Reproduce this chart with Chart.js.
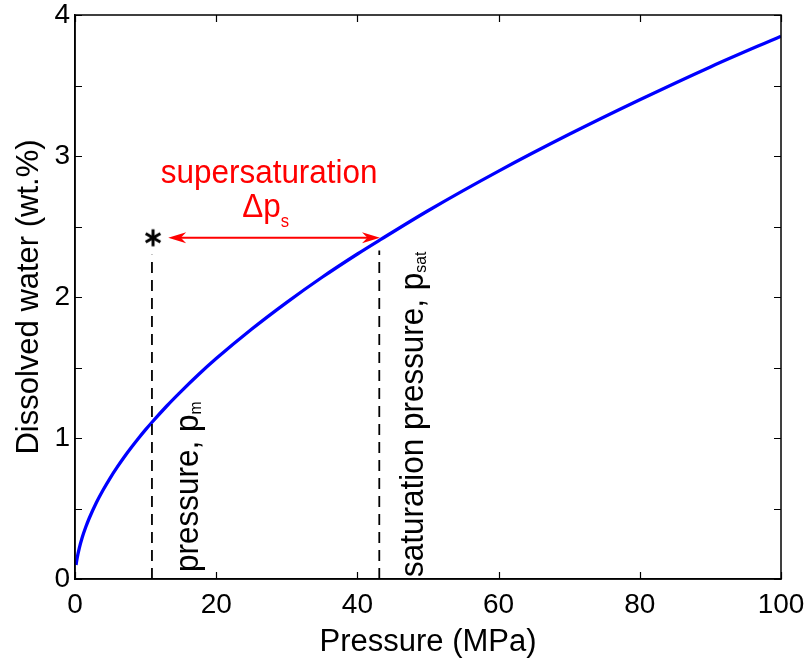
<!DOCTYPE html>
<html><head><meta charset="utf-8">
<script src="https://cdn.jsdelivr.net/npm/chart.js@4.4.0/dist/chart.umd.min.js"></script>
<style>html,body{margin:0;padding:0;background:#fff;}#wrap{width:809px;height:662px;}</style>
</head><body><div id="wrap"><canvas id="c" width="809" height="662"></canvas></div>
<script>
// ---- data ----
const pressure = [0.15, 0.3, 0.6, 1, 1.5, 2, 3, 4, 5, 6, 7, 8, 9, 10, 11, 13, 15, 17.5, 20, 25, 30, 35, 40, 43.2, 50, 60, 70, 80, 90, 100];
const water    = [0.1, 0.148, 0.218, 0.291, 0.365, 0.429, 0.539, 0.633, 0.718, 0.795, 0.867, 0.934, 0.998, 1.059, 1.117, 1.227, 1.329, 1.45, 1.563, 1.771, 1.962, 2.14, 2.305, 2.405, 2.612, 2.893, 3.154, 3.399, 3.632, 3.85];
const xTickValues = [0, 20, 40, 60, 80, 100];
const yTickValues = [0, 0.5, 1, 1.5, 2, 2.5, 3, 3.5, 4];
const pMelt = 10.9;          // pressure p_m
const pSat = 43.1;           // saturation pressure p_sat
const dashTops = [2.3, 2.33];
const starPoint = [11.05, 2.42];
const arrowFromTo = [13.2, 43.2];
const arrowLevel = 2.42;

const FONT = "Helvetica, Arial, 'Liberation Sans', sans-serif";

// asterisk marker
const star = document.createElement('canvas');
star.width = 20; star.height = 20;
(function(){
  const g = star.getContext('2d');
  g.strokeStyle = '#000'; g.lineWidth = 3; g.lineCap = 'butt';
  const c = 10, r = 8.5;
  for (const a of [90, 30, 150]) {
    const t = a * Math.PI / 180;
    g.beginPath();
    g.moveTo(c - r * Math.cos(t), c - r * Math.sin(t));
    g.lineTo(c + r * Math.cos(t), c + r * Math.sin(t));
    g.stroke();
  }
})();

function textSub(ctx, x, y, rot, main, sub, size, subSize, drop, sx, color, align) {
  ctx.save();
  ctx.translate(x, y);
  ctx.rotate(rot);
  ctx.scale(sx, 1);
  ctx.fillStyle = color;
  ctx.textBaseline = 'alphabetic';
  ctx.textAlign = 'left';
  ctx.font = size + 'px ' + FONT;
  const w1 = ctx.measureText(main).width;
  ctx.font = subSize + 'px ' + FONT;
  const w2 = sub ? ctx.measureText(sub).width : 0;
  const start = align === 'center' ? -(w1 + w2) / 2 : 0;
  ctx.font = size + 'px ' + FONT;
  ctx.fillText(main, start, 0);
  if (sub) { ctx.font = subSize + 'px ' + FONT; ctx.fillText(sub, start + w1, drop); }
  ctx.restore();
}

function arrowHead(ctx, tx, ty, dir) {
  const L = 18, W = 5.5;
  ctx.beginPath();
  ctx.moveTo(tx, ty);
  ctx.lineTo(tx - dir * L, ty - W);
  ctx.lineTo(tx - dir * L * 0.7, ty);
  ctx.lineTo(tx - dir * L, ty + W);
  ctx.closePath();
  ctx.fill();
}

const boxPlugin = {
  id: 'box',
  afterDatasetsDraw(chart) {
    const {ctx, chartArea: a, scales: {x, y}} = chart;
    ctx.save();
    ctx.strokeStyle = '#000'; ctx.lineWidth = 1.5;
    ctx.strokeRect(a.left, a.top, a.right - a.left, a.bottom - a.top);
    ctx.lineWidth = 1.2;
    const tl = 7;
    ctx.beginPath();
    for (const v of xTickValues) {
      const px = Math.round(x.getPixelForValue(v)) + 0.5;
      ctx.moveTo(px, a.bottom); ctx.lineTo(px, a.bottom - tl);
      ctx.moveTo(px, a.top); ctx.lineTo(px, a.top + tl);
    }
    for (const v of yTickValues) {
      const py = Math.round(y.getPixelForValue(v)) + 0.5;
      ctx.moveTo(a.left, py); ctx.lineTo(a.left + tl, py);
      ctx.moveTo(a.right, py); ctx.lineTo(a.right - tl, py);
    }
    ctx.stroke();

    // red double arrow
    const ay = y.getPixelForValue(arrowLevel);
    const ax0 = x.getPixelForValue(arrowFromTo[0]);
    const ax1 = x.getPixelForValue(arrowFromTo[1]);
    ctx.strokeStyle = '#ff0000'; ctx.fillStyle = '#ff0000'; ctx.lineWidth = 2;
    ctx.beginPath(); ctx.moveTo(ax0 + 10, ay); ctx.lineTo(ax1 - 10, ay); ctx.stroke();
    arrowHead(ctx, ax0, ay, -1);
    arrowHead(ctx, ax1, ay, 1);
    ctx.restore();

    // annotation texts
    textSub(ctx, x.getPixelForValue(27.5), y.getPixelForValue(2.81), 0, 'supersaturation', '', 34, 17, 0, 0.925, '#ff0000', 'center');
    textSub(ctx, x.getPixelForValue(27.0), y.getPixelForValue(2.567), 0, '\u0394p', 's', 34, 18, 10, 0.925, '#ff0000', 'center');
    textSub(ctx, x.getPixelForValue(17.4), y.getPixelForValue(0.05), -Math.PI / 2, 'pressure, p', 'm', 34, 17, 3, 0.925, '#000', 'left');
    textSub(ctx, x.getPixelForValue(49.3), y.getPixelForValue(0.015), -Math.PI / 2, 'saturation pressure, p', 'sat', 34, 17, 3, 0.925, '#000', 'left');
  }
};

new Chart(document.getElementById('c'), {
  type: 'scatter',
  data: {
    datasets: [
      { data: [{x: pMelt, y: 0}, {x: pMelt, y: dashTops[0]}], showLine: true, borderColor: '#000', borderWidth: 1.8, borderDash: [11, 7], pointRadius: 0 },
      { data: [{x: pSat, y: 0}, {x: pSat, y: dashTops[1]}], showLine: true, borderColor: '#000', borderWidth: 1.8, borderDash: [11, 7], pointRadius: 0 },
      { data: pressure.map((p, i) => ({x: p, y: water[i]})), showLine: true, borderColor: '#0000ff', borderWidth: 3.3, pointRadius: 0, cubicInterpolationMode: 'monotone' },
      { data: [{x: starPoint[0], y: starPoint[1]}], pointStyle: star, pointRadius: 10 }
    ]
  },
  options: {
    responsive: false, animation: false, devicePixelRatio: 1,
    layout: { padding: { left: 0, top: 15, right: 28, bottom: 0 } },
    plugins: { legend: { display: false }, tooltip: { enabled: false } },
    scales: {
      x: {
        type: 'linear', min: 0, max: 100,
        afterBuildTicks: s => { s.ticks = xTickValues.map(v => ({value: v})); },
        afterFit: s => { s.height = 83; s.paddingLeft = 0; s.paddingRight = 0; },
        grid: { drawOnChartArea: false, drawTicks: false },
        border: { display: true, color: '#000', width: 1.5 },
        ticks: { color: '#000', font: { family: FONT, size: 28 }, padding: 9, maxRotation: 0, autoSkip: false },
        title: { display: true, text: 'Pressure (MPa)', color: '#000', font: { family: FONT, size: 31 }, padding: { top: 0, bottom: 1 } }
      },
      y: {
        type: 'linear', min: 0, max: 4,
        afterBuildTicks: s => { s.ticks = yTickValues.map(v => ({value: v})); },
        afterFit: s => { s.width = 75; s.paddingTop = 0; s.paddingBottom = 0; },
        grid: { drawOnChartArea: false, drawTicks: false },
        border: { display: true, color: '#000', width: 1.5 },
        ticks: { color: '#000', font: { family: FONT, size: 28 }, padding: 5, autoSkip: false,
                 callback: v => Number.isInteger(v) ? String(v) : '' },
        title: { display: true, text: 'Dissolved water (wt.%)', color: '#000', font: { family: FONT, size: 31 }, padding: { top: 11, bottom: 0 } }
      }
    }
  },
  plugins: [boxPlugin]
});
</script></body></html>
